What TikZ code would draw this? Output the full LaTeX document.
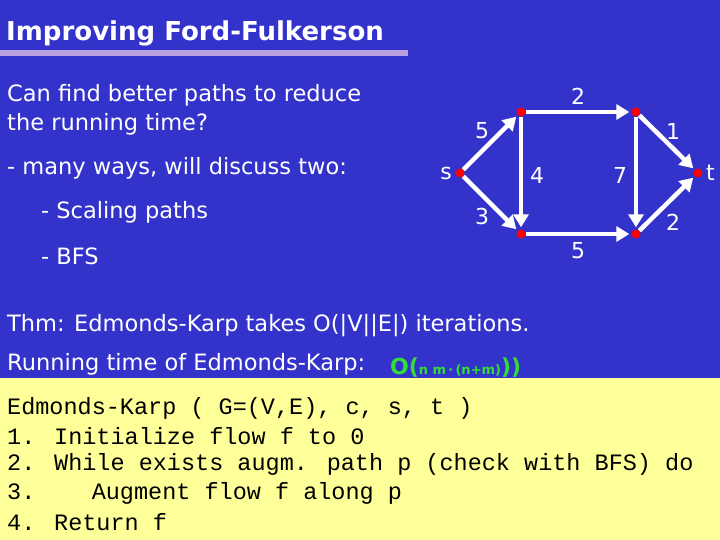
\documentclass[tikz,border=0pt]{standalone}
\usepackage{fontspec}
\setmainfont{DejaVu Sans}
\newfontfamily\monof{Liberation Mono}
\usetikzlibrary{arrows.meta}
\definecolor{bg}{HTML}{3333CC}
\definecolor{yel}{HTML}{FFFF99}
\definecolor{bar}{HTML}{B9A0E0}
\definecolor{hand}{HTML}{33DD33}
\tikzset{v/.style={circle,fill=red,inner sep=0pt,minimum size=9pt},
e/.style={white,line width=4.5pt,-{Triangle[length=13pt,width=15pt]},shorten >=2pt},
lab/.style={text=white,font=\fontsize{22}{22}\selectfont},
txt/.style={text=white,anchor=west,font=\fontsize{22.5}{29}\selectfont,align=left,inner sep=0pt},
code/.style={anchor=west,inner sep=0pt,font=\monof\fontsize{23.5}{24}\selectfont}}
\begin{document}
\begin{tikzpicture}[x=1pt,y=-1pt]
\fill[bg] (0,0) rectangle (720,540);
\useasboundingbox (0,0) rectangle (720,540);
\fill[yel] (0,378) rectangle (720,540);
\fill[bar] (0,50) rectangle (408,56);
\node[txt,font=\fontsize{26}{26}\selectfont\bfseries] (title) at (6,33) {Improving Ford-Fulkerson};
\node[txt,anchor=north west] (q) at (7,84) {Can find better paths to reduce\\the running time?};
\node[txt] (m) at (7,168) {- many ways, will discuss two:};
\node[txt] (sp) at (41,212) {- Scaling paths};
\node[txt] (bfs) at (41,256) {- BFS};
\node[txt] (thm) at (7,326) {Thm: Edmonds-Karp takes O(|V||E|) iterations.};
\node[txt] (rt) at (7,364) {Running time of Edmonds-Karp:};
\node[anchor=west,text=hand,inner sep=0pt,font=\fontsize{22}{22}\selectfont\bfseries] (hw) at (390,368) {O(\fontsize{13}{13}\selectfont n m\,·\,(n+m)\fontsize{22}{22}\selectfont))};
\node[code] (c1) at (7,408) {Edmonds-Karp ( G=(V,E), c, s, t )};
\node[code] (c2) at (7,436) {1. Initialize flow f to 0};
\node[code] (c3) at (7,464) {2. While exists augm. path p (check with BFS) do};
\node[code] (c4) at (7,493) {3.\ \ \ \ Augment flow f along p};
\node[code] (c5) at (7,522) {4. Return f};
\node[v] (s) at (460,173) {};
\node[v] (a) at (521,112) {};
\node[v] (b) at (636,112) {};
\node[v] (c) at (521,234) {};
\node[v] (d) at (636,234) {};
\node[v] (t) at (698,173) {};
\node[lab,left] at (s.west) {s};
\node[lab,right] at (t.east) {t};
\draw[e] (s) -- (a); \draw[e] (s) -- (c);
\draw[e] (a) -- (b); \draw[e] (a) -- (c);
\draw[e] (b) -- (d); \draw[e] (c) -- (d);
\draw[e] (b) -- (t); \draw[e] (d) -- (t);
\node[lab] at (482,131) {5};
\node[lab] at (482,216) {3};
\node[lab] at (578,96) {2};
\node[lab] at (578,251) {5};
\node[lab] at (537,175) {4};
\node[lab] at (620,175) {7};
\node[lab] at (673,131) {1};
\node[lab] at (673,222) {2};
\end{tikzpicture}
\end{document}
